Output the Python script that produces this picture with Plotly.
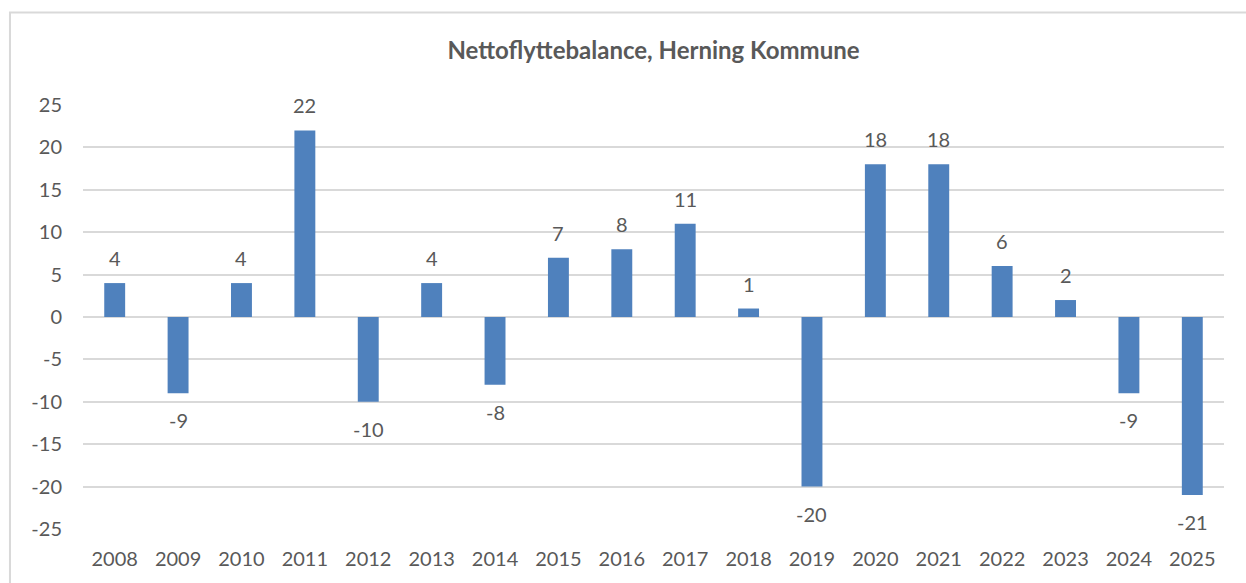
import plotly.graph_objects as go

# Net migration balance per year
years = ["2008", "2009", "2010", "2011", "2012", "2013", "2014", "2015", "2016",
         "2017", "2018", "2019", "2020", "2021", "2022", "2023", "2024", "2025"]
balance = [4, -9, 4, 22, -10, 4, -8, 7, 8, 11, 1, -20, 18, 18, 6, 2, -9, -21]
y_ticks = [25, 20, 15, 10, 5, 0, -5, -10, -15, -20, -25]

text_color = "#595959"
grid_color = "#d9d9d9"
font_family = "Lato, 'Open Sans', sans-serif"

fig = go.Figure()
fig.add_trace(go.Bar(
    x=years,
    y=balance,
    marker=dict(color="#4f81bd", line=dict(width=0)),
    width=0.33,
    hoverinfo="x+y",
))

# Value labels outside the bar ends (x given as category position)
for i, v in enumerate(balance):
    fig.add_annotation(
        x=i, y=v, text=str(v), showarrow=False,
        xref="x", yref="y",
        yanchor="middle", yshift=25 if v >= 0 else -27,
        font=dict(family=font_family, size=20, color=text_color),
    )

# Thin chart-area border (runs past the right and bottom edges of the page)
fig.add_shape(type="rect", xref="paper", yref="paper",
              x0=-0.064, x1=1.06, y0=-0.14, y1=1.218,
              line=dict(color="#d9d9d9", width=2), fillcolor="rgba(0,0,0,0)",
              layer="below")

fig.update_layout(
    width=1246, height=583,
    margin=dict(l=83, r=22, t=105, b=54),
    paper_bgcolor="white", plot_bgcolor="white",
    showlegend=False,
    title=dict(text="<b>Nettoflyttebalance, Herning Kommune</b>",
               x=0.5, xref="paper", xanchor="center",
               y=1 - 50.5 / 583, yref="container", yanchor="middle",
               font=dict(family=font_family, size=24, color=text_color)),
    font=dict(family=font_family, color=text_color),
)
fig.update_xaxes(
    type="category", categoryorder="array", categoryarray=years,
    range=[-0.5, len(years) - 0.5], autorange=False,
    showgrid=False, showline=False, ticks="",
    tickfont=dict(family=font_family, size=20, color=text_color),
    ticklabelstandoff=16,
)
fig.update_yaxes(
    range=[-25, 25], tickvals=y_ticks, ticktext=[str(t) for t in y_ticks],
    showgrid=True, gridcolor=grid_color, gridwidth=2,
    zeroline=True, zerolinecolor=grid_color, zerolinewidth=2,
    showline=False, ticks="",
    tickfont=dict(family=font_family, size=20, color=text_color),
    ticklabelstandoff=20,
)

fig.write_html("out.html")
